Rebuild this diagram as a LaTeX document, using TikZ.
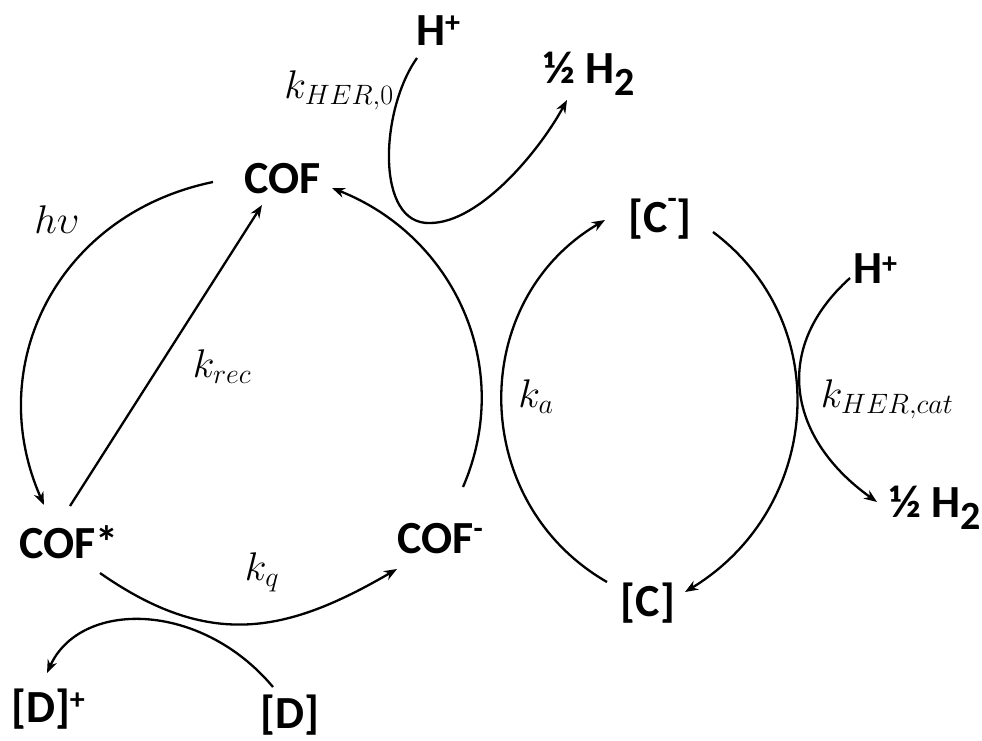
\RequirePackage{fix-cm}
\documentclass[tikz,border=0pt]{standalone}
\usepackage[no-math]{fontspec}
\setmainfont{Carlito}
\usetikzlibrary{arrows.meta}
\newcommand\spx[2]{\raisebox{#1}{\fontsize{30}{30}\selectfont #2}}
\newcommand\hsub[1]{\raisebox{-12pt}{\fontsize{40}{40}\selectfont #1}}
\begin{document}
\begin{tikzpicture}[x=1pt,y=-1pt,
  sp/.style={font=\fontsize{46}{50}\selectfont\bfseries, anchor=base, inner sep=0pt},
  lb/.style={font=\fontsize{40}{44}\selectfont, anchor=base, inner sep=0pt},
  arr/.style={line width=2.3pt, -{Stealth[length=13pt,width=10pt]}}]
\useasboundingbox (0,0) rectangle (982,740);
% species
\node[sp] (cof)  at (283,193) {COF};
\node[sp] (hp1)  at (438,45)  {H\spx{12.5pt}{+}};
\node[sp] (hh1)  at (589,83)  {½ H\hsub{2}};
\node[sp] (cofs) at (69,558)  {COF*};
\node[sp] (cofm) at (440,553) {COF\spx{14.5pt}{-}};
\node[sp] (dp)   at (48,722)  {[D]\spx{13pt}{+}};
\node[sp] (d)    at (290,728) {[D]};
\node[sp] (cm)   at (660,232) {[C\spx{24pt}{-}]};
\node[sp] (c)    at (648,616) {[C]};
\node[sp] (hp2)  at (875,283) {H\spx{9.5pt}{+}};
\node[sp] (hh2)  at (935,517) {½ H\hsub{2}};
% labels
\node[lb] (lhv)   at (57,233)  {$h\upsilon$};
\node[lb] (lher0) at (339,98)  {$k_{HER,0}$};
\node[lb] (lrec)  at (222,377) {$k_{rec}$};
\node[lb] (lq)    at (262,580) {$k_q$};
\node[lb] (la)    at (536,407) {$k_a$};
\node[lb] (lcat)  at (887,407) {$k_{HER,cat}$};
% connectors
\coordinate (hb) at (430,223);
\draw[arr] ([shift={(-21,13)}]hp1.base) .. controls (380,110) and (375,225) .. (hb)
           .. controls (480,223) and (540,150) .. ([shift={(-22,17)}]hh1.base);
\draw[arr] ([shift={(-70,-11)}]cof.base) .. controls (58,214) and (-18,365) .. ([shift={(-25,-53)}]cofs.base);
\draw[arr] ([shift={(1,-52)}]cofs.base) -- ([shift={(-21,12)}]cof.base);
\draw[arr] ([shift={(23,-66)}]cofm.base) .. controls (515,367) and (454,236) .. ([shift={(49,-5)}]cof.base);
\draw[arr] ([shift={(31,15)}]cofs.base) .. controls (210,650) and (287,633) .. ([shift={(-43,16)}]cofm.base);
\draw[arr] ([shift={(-17,-41)}]d.base) .. controls (200,600) and (80,600) .. ([shift={(-1,-49)}]dp.base);
\draw[arr] ([shift={(-41,-34)}]c.base) .. controls (468,502) and (467,301) .. ([shift={(-55,-12)}]cm.base);
\draw[arr] ([shift={(53,0)}]cm.base) .. controls (837,325) and (820,510) .. ([shift={(37,-24)}]c.base);
\draw[arr] ([shift={(-25,-5)}]hp2.base) .. controls (770,350) and (790,440) .. ([shift={(-58,-15)}]hh2.base);
\end{tikzpicture}
\end{document}
